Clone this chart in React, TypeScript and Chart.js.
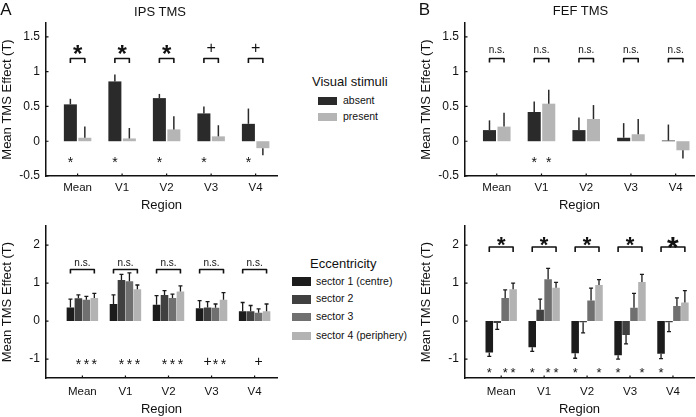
import React, { useEffect, useRef } from 'react';
import { Chart, registerables } from 'chart.js';

Chart.register(...registerables);

const FONT = '"Liberation Sans", Arial, Helvetica, sans-serif';
Chart.defaults.font.family = FONT;
Chart.defaults.color = '#111';

// ---------- data ----------
const regions = ['Mean', 'V1', 'V2', 'V3', 'V4'];
const positions = [1, 2, 3, 4, 5];
const topYTicks = [-0.5, 0, 0.5, 1, 1.5];
const bottomYTicks = [-1, 0, 1, 2];

const stimLabels = ['absent', 'present'];
const stimColors = ['#2a2a2a', '#b5b5b5'];
const sectorLabels = ['sector 1 (centre)', 'sector 2', 'sector 3', 'sector 4 (periphery)'];
const sectorColors = ['#1c1c1c', '#404040', '#707070', '#b3b3b3'];

// A top: IPS TMS, visual stimuli
const ipsAbsent = [0.53, 0.86, 0.62, 0.4, 0.25];
const ipsAbsentErr = [0.08, 0.1, 0.06, 0.1, 0.22];
const ipsPresent = [0.05, 0.04, 0.17, 0.07, -0.1];
const ipsPresentErr = [0.16, 0.15, 0.19, 0.16, 0.1];
const ipsPairSig = ['*', '*', '*', '+', '+'];
const ipsAbsentSig = ['*', '*', '*', '*', '*'];
const ipsPresentSig = ['', '', '', '', ''];

// B top: FEF TMS, visual stimuli
const fefAbsent = [0.16, 0.42, 0.16, 0.05, 0.01];
const fefAbsentErr = [0.14, 0.15, 0.18, 0.21, 0.23];
const fefPresent = [0.21, 0.54, 0.32, 0.1, -0.13];
const fefPresentErr = [0.2, 0.2, 0.2, 0.22, 0.12];
const fefPairSig = ['n.s.', 'n.s.', 'n.s.', 'n.s.', 'n.s.'];
const fefAbsentSig = ['', '*', '', '', ''];
const fefPresentSig = ['', '*', '', '', ''];

// A bottom: IPS TMS, eccentricity
const ipsS1 = [0.36, 0.45, 0.43, 0.34, 0.26];
const ipsS1Err = [0.22, 0.24, 0.24, 0.2, 0.23];
const ipsS2 = [0.6, 1.08, 0.69, 0.36, 0.26];
const ipsS2Err = [0.09, 0.15, 0.11, 0.15, 0.15];
const ipsS3 = [0.56, 1.05, 0.61, 0.35, 0.22];
const ipsS3Err = [0.09, 0.22, 0.1, 0.1, 0.1];
const ipsS4 = [0.61, 0.84, 0.78, 0.56, 0.26];
const ipsS4Err = [0.12, 0.11, 0.15, 0.19, 0.19];
const ipsS1Sig = ['', '', '', '', ''];
const ipsS2Sig = ['*', '*', '*', '+', ''];
const ipsS3Sig = ['*', '*', '*', '*', '+'];
const ipsS4Sig = ['*', '*', '*', '*', ''];
const ipsEccSig = ['n.s.', 'n.s.', 'n.s.', 'n.s.', 'n.s.'];

// B bottom: FEF TMS, eccentricity
const fefS1 = [-0.83, -0.69, -0.85, -0.9, -0.86];
const fefS1Err = [0.1, 0.11, 0.13, 0.1, 0.13];
const fefS2 = [-0.05, 0.3, -0.03, -0.37, -0.03];
const fefS2Err = [0.17, 0.28, 0.28, 0.23, 0.25];
const fefS3 = [0.61, 1.1, 0.54, 0.35, 0.4];
const fefS3Err = [0.21, 0.29, 0.33, 0.38, 0.21];
const fefS4 = [0.84, 0.88, 0.95, 1.03, 0.49];
const fefS4Err = [0.16, 0.14, 0.14, 0.2, 0.31];
const fefS1Sig = ['*', '*', '*', '*', '*'];
const fefS2Sig = ['', '', '', '', ''];
const fefS3Sig = ['*', '*', '', '', ''];
const fefS4Sig = ['*', '*', '*', '*', ''];
const fefEccSig = ['*', '*', '*', '*', '*'];

// ---------- drawing helpers ----------
function drawMark(ctx: CanvasRenderingContext2D, text: string, x: number, y: number, size: number, bold: boolean) {
  if (!text) return;
  ctx.font = `${bold ? 'bold ' : ''}${size}px ${FONT}`;
  ctx.fillStyle = '#111';
  ctx.textAlign = 'center';
  ctx.textBaseline = 'alphabetic';
  let off = 0.26 * size;
  if (text === '*') off = 0.59 * size;
  else if (text === '+') off = 0.35 * size;
  ctx.fillText(text, x, y + off);
}

const annotPlugin = {
  id: 'annot',
  afterDraw(chart: any, _args: any, opts: any) {
    const ctx: CanvasRenderingContext2D = chart.ctx;
    const ys = chart.scales.y;
    const xs = chart.scales.x;
    const area = chart.chartArea;
    ctx.save();
    // error bars + significance under bars
    chart.data.datasets.forEach((ds: any, i: number) => {
      const meta = chart.getDatasetMeta(i);
      meta.data.forEach((el: any, j: number) => {
        const v = ds.data[j].y;
        const e = ds.err[j];
        const sgn = v < 0 ? -1 : 1;
        const yEnd = ys.getPixelForValue(v + sgn * e);
        ctx.strokeStyle = opts.errColor;
        ctx.lineWidth = opts.errWidth;
        ctx.lineCap = 'butt';
        ctx.beginPath();
        ctx.moveTo(el.x, el.y);
        ctx.lineTo(el.x, yEnd);
        if (opts.cap) {
          ctx.moveTo(el.x - opts.cap / 2, yEnd);
          ctx.lineTo(el.x + opts.cap / 2, yEnd);
        }
        ctx.stroke();
        if (ds.sig && ds.sig[j]) {
          drawMark(ctx, ds.sig[j], el.x, ys.getPixelForValue(opts.belowY), opts.belowSize, false);
        }
      });
    });
    // brackets + labels
    const n = chart.data.datasets.length;
    const first = chart.getDatasetMeta(0);
    const last = chart.getDatasetMeta(n - 1);
    opts.pairSig.forEach((lab: string, j: number) => {
      const x1 = first.data[j].x;
      const x2 = last.data[j].x;
      const by = ys.getPixelForValue(opts.bracketY);
      ctx.strokeStyle = '#111';
      ctx.lineWidth = 1.6;
      ctx.lineJoin = 'round';
      ctx.beginPath();
      ctx.moveTo(x1, by + opts.bracketDrop);
      ctx.lineTo(x1, by);
      ctx.lineTo(x2, by);
      ctx.lineTo(x2, by + opts.bracketDrop);
      ctx.stroke();
      drawMark(ctx, lab, (x1 + x2) / 2, ys.getPixelForValue(opts.labelY), opts.labelSizes[j], lab === '*');
    });
    // inward tick marks
    ctx.strokeStyle = '#111';
    ctx.lineWidth = 1.2;
    ctx.beginPath();
    opts.yTicks.forEach((v: number) => {
      const py = ys.getPixelForValue(v);
      ctx.moveTo(area.left, py);
      ctx.lineTo(area.left + 2.5, py);
    });
    positions.forEach((v) => {
      const px = xs.getPixelForValue(v);
      ctx.moveTo(px, area.bottom);
      ctx.lineTo(px, area.bottom - 2.5);
    });
    ctx.stroke();
    ctx.restore();
  },
};

type Series = { label: string; values: number[]; err: number[]; sig: string[]; color: string };
type Panel = {
  series: Series[];
  xMin: number; xMax: number; yMin: number; yMax: number; yTicks: number[];
  padTop: number; padRight: number; xAxisH: number; tickPadX: number;
  catPct: number; barPct: number; annot: any;
};

function panelConfig(p: Panel): any {
  return {
    type: 'bar',
    data: {
      datasets: p.series.map((s) => ({
        label: s.label,
        data: positions.map((x, i) => ({ x, y: s.values[i] })),
        err: s.err,
        sig: s.sig,
        backgroundColor: s.color,
        borderWidth: 0,
        categoryPercentage: p.catPct,
        barPercentage: p.barPct,
      })),
    },
    options: {
      animation: false,
      responsive: false,
      maintainAspectRatio: false,
      events: [],
      layout: { padding: { top: p.padTop, right: p.padRight, left: 0, bottom: 0 } },
      plugins: {
        legend: { display: false },
        tooltip: { enabled: false },
        annot: { ...p.annot, yTicks: p.yTicks },
      },
      scales: {
        x: {
          type: 'linear',
          offset: false,
          min: p.xMin,
          max: p.xMax,
          grid: { display: false, drawTicks: false, offset: false },
          border: { display: true, color: '#111', width: 1.5 },
          afterBuildTicks: (s: any) => { s.ticks = positions.map((v) => ({ value: v })); },
          afterFit: (s: any) => { s.height = p.xAxisH; },
          ticks: {
            autoSkip: false,
            maxRotation: 0,
            padding: p.tickPadX,
            color: '#111',
            font: { size: 11.5 },
            callback: (v: number) => regions[positions.indexOf(v)] ?? '',
          },
          title: { display: true, text: 'Region', color: '#111', font: { size: 13 }, padding: { top: 0, bottom: 0 } },
        },
        y: {
          type: 'linear',
          min: p.yMin,
          max: p.yMax,
          grid: { display: false, drawTicks: false },
          border: { display: true, color: '#111', width: 1.5 },
          afterBuildTicks: (s: any) => { s.ticks = p.yTicks.map((v) => ({ value: v })); },
          afterFit: (s: any) => { s.width = 46; },
          ticks: { padding: 6, color: '#111', font: { size: 12 }, callback: (v: number) => String(v) },
          title: { display: true, text: 'Mean TMS Effect (T)', color: '#111', font: { size: 13 }, padding: { top: 0, bottom: 0 } },
        },
      },
    },
    plugins: [annotPlugin],
  };
}

const topA: Panel = {
  series: [
    { label: stimLabels[0], values: ipsAbsent, err: ipsAbsentErr, sig: ipsAbsentSig, color: stimColors[0] },
    { label: stimLabels[1], values: ipsPresent, err: ipsPresentErr, sig: ipsPresentSig, color: stimColors[1] },
  ],
  xMin: 0.29, xMax: 5.48, yMin: -0.5, yMax: 1.7, yTicks: topYTicks,
  padTop: 23, padRight: 13, xAxisH: 37, tickPadX: 5, catPct: 0.65, barPct: 0.9,
  annot: { pairSig: ipsPairSig, bracketY: 1.19, bracketDrop: 4.5, labelY: 1.35, labelSizes: [24, 24, 24, 16, 16],
    belowY: -0.25, belowSize: 14, cap: 0, errWidth: 1.5, errColor: '#2a2a2a' },
};

const topB: Panel = {
  series: [
    { label: stimLabels[0], values: fefAbsent, err: fefAbsentErr, sig: fefAbsentSig, color: stimColors[0] },
    { label: stimLabels[1], values: fefPresent, err: fefPresentErr, sig: fefPresentSig, color: stimColors[1] },
  ],
  xMin: 0.29, xMax: 5.41, yMin: -0.5, yMax: 1.7, yTicks: topYTicks,
  padTop: 23, padRight: 2, xAxisH: 37, tickPadX: 5, catPct: 0.65, barPct: 0.9,
  annot: { pairSig: fefPairSig, bracketY: 1.19, bracketDrop: 4, labelY: 1.3, labelSizes: [10, 10, 10, 10, 10],
    belowY: -0.25, belowSize: 14, cap: 0, errWidth: 1.5, errColor: '#2a2a2a' },
};

const bottomA: Panel = {
  series: [
    { label: sectorLabels[0], values: ipsS1, err: ipsS1Err, sig: ipsS1Sig, color: sectorColors[0] },
    { label: sectorLabels[1], values: ipsS2, err: ipsS2Err, sig: ipsS2Sig, color: sectorColors[1] },
    { label: sectorLabels[2], values: ipsS3, err: ipsS3Err, sig: ipsS3Sig, color: sectorColors[2] },
    { label: sectorLabels[3], values: ipsS4, err: ipsS4Err, sig: ipsS4Sig, color: sectorColors[3] },
  ],
  xMin: 0.155, xMax: 5.52, yMin: -1.5, yMax: 2.5, yTicks: bottomYTicks,
  padTop: 12, padRight: 13, xAxisH: 39, tickPadX: 7, catPct: 0.74, barPct: 0.95,
  annot: { pairSig: ipsEccSig, bracketY: 1.36, bracketDrop: 4, labelY: 1.51, labelSizes: [10, 10, 10, 10, 10],
    belowY: -1.05, belowSize: 14, cap: 4, errWidth: 1.3, errColor: '#1a1a1a' },
};

const bottomB: Panel = {
  series: [
    { label: sectorLabels[0], values: fefS1, err: fefS1Err, sig: fefS1Sig, color: sectorColors[0] },
    { label: sectorLabels[1], values: fefS2, err: fefS2Err, sig: fefS2Sig, color: sectorColors[1] },
    { label: sectorLabels[2], values: fefS3, err: fefS3Err, sig: fefS3Sig, color: sectorColors[2] },
    { label: sectorLabels[3], values: fefS4, err: fefS4Err, sig: fefS4Sig, color: sectorColors[3] },
  ],
  xMin: 0.157, xMax: 5.49, yMin: -1.5, yMax: 2.5, yTicks: bottomYTicks,
  padTop: 12, padRight: 2, xAxisH: 39, tickPadX: 7, catPct: 0.74, barPct: 0.95,
  annot: { pairSig: fefEccSig, bracketY: 1.95, bracketDrop: 5, labelY: 2.15, labelSizes: [22, 22, 22, 22, 30],
    belowY: -1.26, belowSize: 13, cap: 4, errWidth: 1.3, errColor: '#1a1a1a' },
};

function ChartCanvas({ panel, left, top, width, height }: { panel: Panel; left: number; top: number; width: number; height: number }) {
  const ref = useRef<HTMLCanvasElement | null>(null);
  useEffect(() => {
    if (!ref.current) return;
    const chart = new Chart(ref.current, panelConfig(panel));
    return () => chart.destroy();
  }, [panel]);
  return (
    <canvas
      ref={ref}
      width={width}
      height={height}
      style={{ position: 'absolute', left, top, width, height }}
    />
  );
}

function Txt({ x, y, size, children, anchor = 'middle' }: { x: number; y: number; size: number; children: React.ReactNode; anchor?: string }) {
  return (
    <div
      style={{
        position: 'absolute', left: x, top: y, fontSize: size, lineHeight: 1, fontFamily: FONT,
        color: '#111', whiteSpace: 'nowrap',
        transform: anchor === 'middle' ? 'translate(-50%, -50%)' : 'translate(0, -50%)',
      }}
    >
      {children}
    </div>
  );
}

function Swatch({ x, y, w, h, color }: { x: number; y: number; w: number; h: number; color: string }) {
  return <div style={{ position: 'absolute', left: x, top: y, width: w, height: h, background: color }} />;
}

export default function App() {
  const sectorTops = [277.3, 295, 312.7, 331.7];
  const stimTops = [96.7, 112.7];
  return (
    <div style={{ position: 'absolute', left: 0, top: 0, width: 696, height: 417, background: '#fff', overflow: 'hidden' }}>
      <ChartCanvas panel={topA} left={0} top={0} width={290} height={213} />
      <ChartCanvas panel={bottomA} left={0} top={213} width={290} height={204} />
      <ChartCanvas panel={topB} left={419} top={0} width={277} height={213} />
      <ChartCanvas panel={bottomB} left={419} top={213} width={277} height={204} />

      <Txt x={6} y={9} size={17}>A</Txt>
      <Txt x={424.5} y={9} size={17}>B</Txt>
      <Txt x={160} y={10.5} size={13}>IPS TMS</Txt>
      <Txt x={580.5} y={10} size={13}>FEF TMS</Txt>

      <Txt x={312} y={81} size={13} anchor="start">Visual stimuli</Txt>
      {stimLabels.map((l, i) => (
        <React.Fragment key={l}>
          <Swatch x={318} y={stimTops[i]} w={19} h={8} color={stimColors[i]} />
          <Txt x={343} y={stimTops[i] + 3.3} size={10.5} anchor="start">{l}</Txt>
        </React.Fragment>
      ))}

      <Txt x={310} y={263.3} size={13} anchor="start">Eccentricity</Txt>
      {sectorLabels.map((l, i) => (
        <React.Fragment key={l}>
          <Swatch x={292.3} y={sectorTops[i]} w={18.4} h={8.5} color={sectorColors[i]} />
          <Txt x={316} y={sectorTops[i] + 3.3} size={10.5} anchor="start">{l}</Txt>
        </React.Fragment>
      ))}
    </div>
  );
}
